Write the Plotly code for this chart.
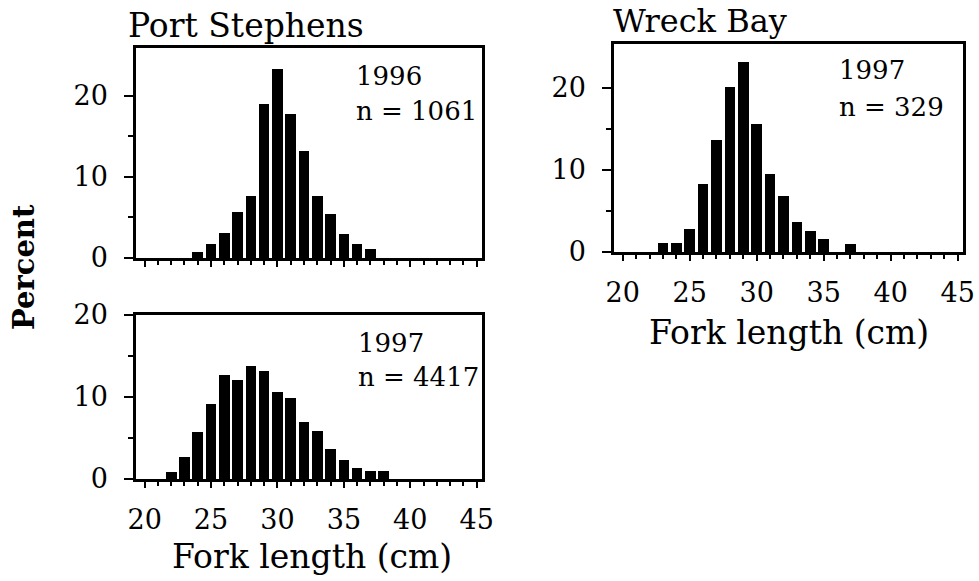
import plotly.graph_objects as go

# Fork length classes (cm) and percentage frequencies
lengths_ps96 = [24, 25, 26, 27, 28, 29, 30, 31, 32, 33, 34, 35, 36, 37]
pct_ps96 = [0.8, 1.7, 3.1, 5.7, 7.7, 19.0, 23.3, 17.8, 13.2, 7.6, 5.4, 3.0, 1.7, 1.1]

lengths_ps97 = [22, 23, 24, 25, 26, 27, 28, 29, 30, 31, 32, 33, 34, 35, 36, 37, 38]
pct_ps97 = [0.8, 2.7, 5.7, 9.1, 12.7, 12.1, 13.8, 13.2, 10.6, 9.9, 6.9, 5.9, 3.6, 2.3, 1.3, 1.0, 1.0]

lengths_wb97 = [23, 24, 25, 26, 27, 28, 29, 30, 31, 32, 33, 34, 35, 36, 37]
pct_wb97 = [1.1, 1.1, 2.8, 8.3, 13.6, 20.1, 23.1, 15.6, 9.5, 6.8, 3.6, 2.6, 1.6, 0.0, 1.0]

x_ticks = [20, 25, 30, 35, 40, 45]
y_major = [0, 10, 20]
y_minor = [5, 15]

FONT = "DejaVu Serif"
W, H = 979, 581

fig = go.Figure()
bar_style = dict(marker=dict(color="black", line=dict(width=0)), width=0.8, showlegend=False)
fig.add_trace(go.Bar(x=lengths_ps96, y=pct_ps96, xaxis="x", yaxis="y", **bar_style))
fig.add_trace(go.Bar(x=lengths_ps97, y=pct_ps97, xaxis="x2", yaxis="y2", **bar_style))
fig.add_trace(go.Bar(x=lengths_wb97, y=pct_wb97, xaxis="x3", yaxis="y3", **bar_style))


def px_x(a, b):
    return [a / W, b / W]


def px_y(top, bottom):
    return [1 - bottom / H, 1 - top / H]


def xaxis(domain, anchor, labels):
    return dict(
        domain=domain, anchor=anchor, range=[19.35, 45.4], automargin=False,
        tickvals=x_ticks, showticklabels=labels,
        ticks="outside", ticklen=6, tickwidth=2, tickcolor="black",
        minor=dict(dtick=1, tick0=20, ticks="outside", ticklen=4, tickwidth=2, tickcolor="black"),
        showline=True, linecolor="black", linewidth=2.5, mirror=True,
        showgrid=False, zeroline=False, ticklabelstandoff=9,
        tickfont=dict(family=FONT, size=27, color="black"),
    )


def yaxis(domain, anchor, top):
    return dict(
        domain=domain, anchor=anchor, range=[0, top], automargin=False,
        tickvals=y_major,
        ticks="outside", ticklen=9, tickwidth=2, tickcolor="black",
        minor=dict(tickvals=y_minor, ticks="outside", ticklen=5, tickwidth=2, tickcolor="black"),
        showline=True, linecolor="black", linewidth=2.5, mirror=True,
        showgrid=False, zeroline=False, ticklabelstandoff=11,
        tickfont=dict(family=FONT, size=27, color="black"),
    )


fig.update_layout(
    width=W, height=H,
    margin=dict(l=0, r=0, t=0, b=0, pad=0),
    paper_bgcolor="white", plot_bgcolor="white",
    bargap=0,
    xaxis=xaxis(px_x(136, 482), "y", False),
    yaxis=yaxis(px_y(48, 258), "x", 25.9),
    xaxis2=xaxis(px_x(136, 482), "y2", True),
    yaxis2=yaxis(px_y(315, 479), "x2", 20.0),
    xaxis3=xaxis(px_x(614, 963), "y3", True),
    yaxis3=yaxis(px_y(44, 252), "x3", 25.3),
)

txt = dict(family=FONT, color="black")
notes = [
    ("Port Stephens", 126, 26, 33, "left"),
    ("Wreck Bay", 611, 21, 32, "left"),
    ("1996", 354, 76, 26, "left"),
    ("n = 1061", 354, 111, 26, "left"),
    ("1997", 356, 343, 26, "left"),
    ("n = 4417", 356, 377, 26, "left"),
    ("1997", 837, 70, 26, "left"),
    ("n = 329", 837, 107, 26, "left"),
    ("Fork length (cm)", 312, 556, 33, "center"),
    ("Fork length (cm)", 789, 332, 33, "center"),
]
for text, x, y, size, align in notes:
    fig.add_annotation(
        text=text, x=x / W, y=1 - y / H, xref="paper", yref="paper",
        xanchor=align, yanchor="middle", showarrow=False,
        font=dict(size=size, **txt),
    )

fig.add_annotation(
    text="<b>Percent</b>", x=24 / W, y=1 - 267 / H, xref="paper", yref="paper",
    xanchor="center", yanchor="middle", showarrow=False, textangle=-90,
    font=dict(size=29, **txt),
)

fig.write_html("out.html")
